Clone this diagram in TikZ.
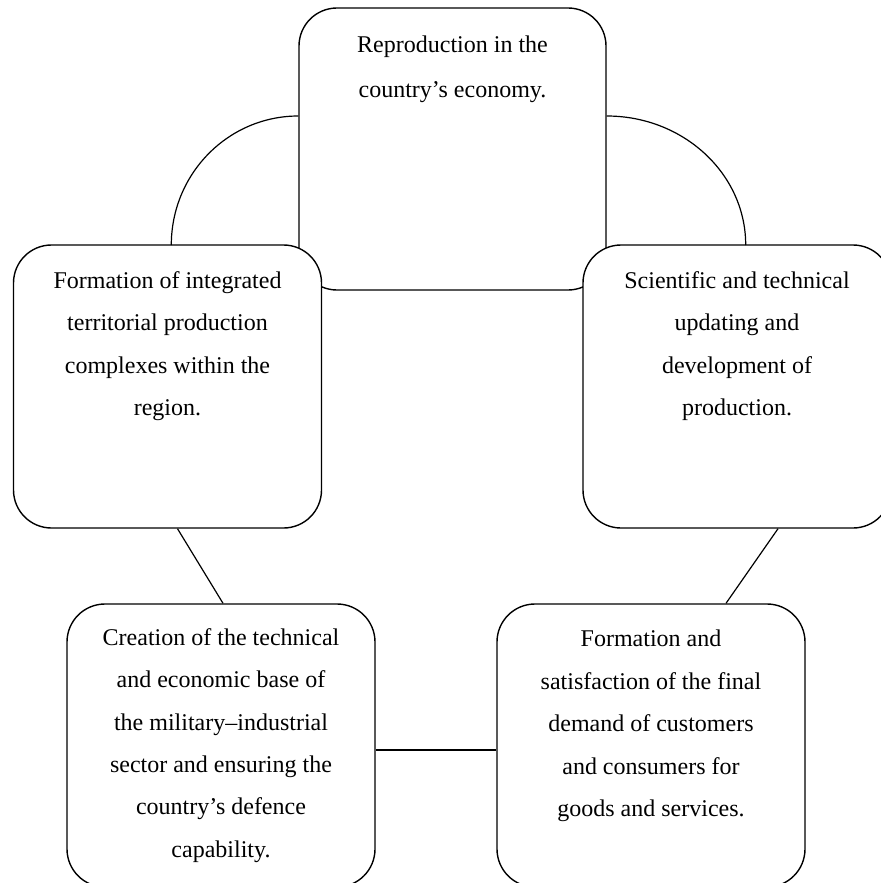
\documentclass[tikz,border=0pt]{standalone}
\usepackage{fontspec}
\setmainfont{Liberation Serif}
\usetikzlibrary{positioning}

\begin{document}
\begin{tikzpicture}[x=0.5pt, y=-0.5pt,
  stagebox/.style={draw, line width=0.7pt, rounded corners=19pt, fill=white,
    minimum width=154pt, minimum height=141.5pt, inner sep=0pt},
  stagetext/.style={align=center, inner sep=0pt, font=\fontsize{12}{21.2}\selectfont},
  link/.style={line width=0.6pt}]
  \useasboundingbox (0,0) rectangle (880,883);

  % central box
  \node[stagebox, minimum width=153.5pt, minimum height=141pt] (reprod) at (452.5,149) {};
  \node[stagetext, font=\fontsize{12}{22.5}\selectfont, below=14.3pt of reprod.north] (reprodtext)
    {Reproduction in the\\country's economy.};

  % side boxes, drawn over the corners of the central one
  \node[stagebox] (integr) at (167.5,386.5) {};
  \node[stagetext, below=13.3pt of integr.north] (integrtext)
    {Formation of integrated\\territorial production\\complexes within the\\region.};
  \node[stagebox] (scitech) at (737,386.5) {};
  \node[stagetext, below=13.3pt of scitech.north] (scitechtext)
    {Scientific and technical\\updating and\\development of\\production.};

  % lower boxes
  \node[stagebox] (defence) at (221,745.5) {};
  \node[stagetext, below=12.3pt of defence.north] (defencetext)
    {Creation of the technical\\and economic base of\\the military--industrial\\sector and ensuring the\\country's defence\\capability.};
  \node[stagebox] (demand) at (651,745.5) {};
  \node[stagetext, below=13.3pt of demand.north] (demandtext)
    {Formation and\\satisfaction of the final\\demand of customers\\and consumers for\\goods and services.};

  % connectors
  \draw[link] ([yshift=16.5pt]reprod.west) arc[start angle=270, end angle=180, x radius=127, y radius=129];
  \draw[link] ([yshift=16.5pt]reprod.east) arc[start angle=270, end angle=360, x radius=139, y radius=129];
  \draw[link] ([xshift=5pt]integr.south) -- ([xshift=1pt]defence.north);
  \draw[link] ([xshift=20.5pt]scitech.south) -- ([xshift=37.5pt]demand.north);
  \draw[link] ([yshift=-2.25pt]defence.east) -- ([yshift=-2.25pt]demand.west);
\end{tikzpicture}
\end{document}
